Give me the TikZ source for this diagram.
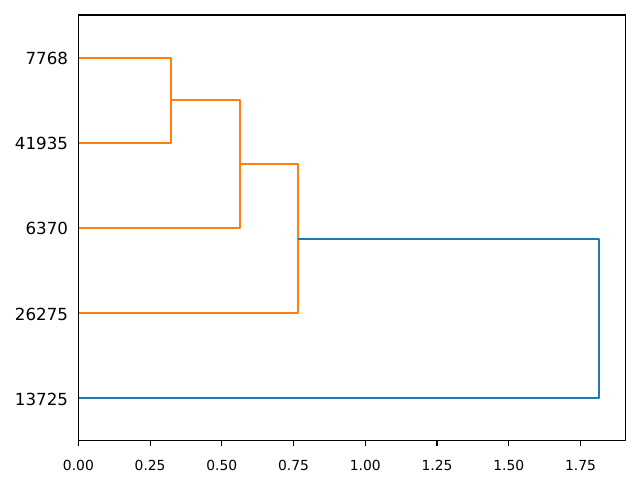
\documentclass[tikz,border=0pt]{standalone}
\usepackage{fontspec}
\setmainfont{DejaVu Sans}
\definecolor{mplorange}{HTML}{FF7F0E}
\definecolor{mplblue}{HTML}{1F77B4}
\begin{document}
\begin{tikzpicture}[x=215.2pt,y=6.39pt,
  link/.style={line width=1.56pt, line join=round},
  leaflabel/.style={anchor=base east, inner sep=0pt, font=\fontsize{12.5}{15}\selectfont, xshift=-7.6pt, yshift=-5.25pt},
  ticklabel/.style={anchor=base, inner sep=0pt, font=\fontsize{10.4}{12.5}\selectfont, yshift=-22.5pt}]
\useasboundingbox (-0.2733,-4.577) rectangle (1.9575,51.76);
% leaves
\coordinate (l7768) at (0,45);
\coordinate (l41935) at (0,35);
\coordinate (l6370) at (0,25);
\coordinate (l26275) at (0,15);
\coordinate (l13725) at (0,5);
\node[leaflabel] (t7768) at (l7768) {7768};
\node[leaflabel] (t41935) at (l41935) {41935};
\node[leaflabel] (t6370) at (l6370) {6370};
\node[leaflabel] (t26275) at (l26275) {26275};
\node[leaflabel] (t13725) at (l13725) {13725};
% merges
\coordinate (m1) at (0.3228,40);
\coordinate (m2) at (0.563,32.5);
\coordinate (m3) at (0.766,23.75);
\coordinate (m4) at (1.815,14.375);
\draw[link, mplorange] (l7768) -| (m1) |- (l41935);
\draw[link, mplorange] (m1) -| (m2) |- (l6370);
\draw[link, mplorange] (m2) -| (m3) |- (l26275);
\draw[link, mplblue] (m3) -| (m4) |- (l13725);
% axes
\draw[line width=0.83pt] (0,0) rectangle (1.906,50);
\foreach \v/\t [count=\i] in {0/0.00,0.25/0.25,0.5/0.50,0.75/0.75,1/1.00,1.25/1.25,1.5/1.50,1.75/1.75}{
  \draw[line width=0.83pt] (\v,0) -- ++(0,-3.65pt);
  \node[ticklabel] (x\i) at (\v,0) {\t};
}
\end{tikzpicture}
\end{document}
